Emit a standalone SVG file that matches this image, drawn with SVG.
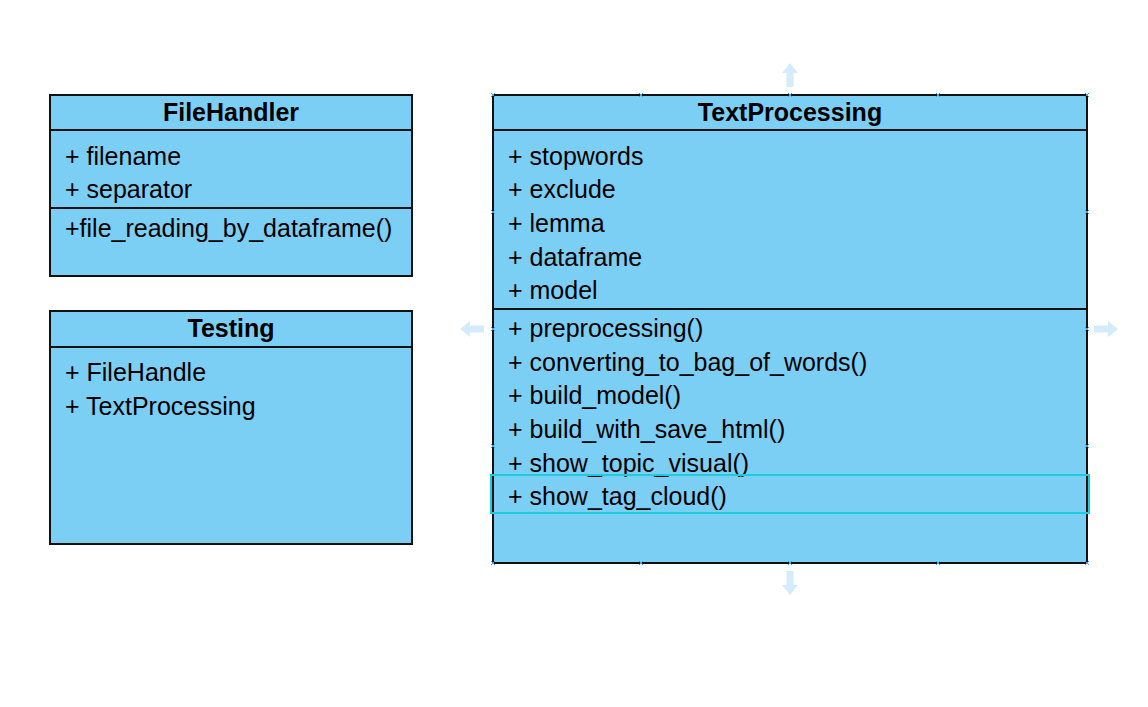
<svg xmlns="http://www.w3.org/2000/svg" width="1148" height="707" viewBox="0 0 1148 707">
<style>
.box{fill:#7bcff5;stroke:#111;stroke-width:2}
.ln{stroke:#111;stroke-width:2}
.t{font-family:"Liberation Sans",Arial,sans-serif;font-size:25px;fill:#000}
.h{font-family:"Liberation Sans",Arial,sans-serif;font-size:25px;font-weight:bold;fill:#000;text-anchor:middle}
.hint{fill:#d3ebfa}
.mk{stroke:#3aa6e0;stroke-width:1;fill:none}
</style>
<rect width="1148" height="707" fill="#fff"/>
<g id="FileHandler">
<rect class="box" x="50" y="95" width="362" height="181"/>
<line class="ln" x1="50" y1="130" x2="412" y2="130"/>
<line class="ln" x1="50" y1="208" x2="412" y2="208"/>
<text class="h" x="231" y="121">FileHandler</text>
<text class="t" x="65" y="165">+ filename</text>
<text class="t" x="65" y="198">+ separator</text>
<text class="t" x="65" y="237">+file_reading_by_dataframe()</text>
</g>
<g id="Testing">
<rect class="box" x="50" y="311" width="362" height="233"/>
<line class="ln" x1="50" y1="347" x2="412" y2="347"/>
<text class="h" x="231" y="337">Testing</text>
<text class="t" x="65" y="381">+ FileHandle</text>
<text class="t" x="65" y="415">+ TextProcessing</text>
</g>
<g id="TextProcessing">
<rect class="box" x="493" y="95" width="594" height="468"/>
<line class="ln" x1="493" y1="130" x2="1087" y2="130"/>
<line class="ln" x1="493" y1="309" x2="1087" y2="309"/>
<text class="h" x="790" y="121">TextProcessing</text>
<text class="t" x="508" y="165">+ stopwords</text>
<text class="t" x="508" y="198">+ exclude</text>
<text class="t" x="508" y="232">+ lemma</text>
<text class="t" x="508" y="266">+ dataframe</text>
<text class="t" x="508" y="299">+ model</text>
<text class="t" x="508" y="337">+ preprocessing()</text>
<text class="t" x="508" y="371">+ converting_to_bag_of_words()</text>
<text class="t" x="508" y="404">+ build_model()</text>
<text class="t" x="508" y="438">+ build_with_save_html()</text>
<text class="t" x="508" y="472">+ show_topic_visual()</text>
<text class="t" x="508" y="505">+ show_tag_cloud()</text>
<rect x="491" y="475" width="598" height="38" fill="none" stroke="#1ccbdc" stroke-width="2"/>
</g>
<g id="connectors">
<path class="hint" d="M790 63 L798 73 L793.5 73 L793.5 87 L786.5 87 L786.5 73 L782 73 Z"/>
<path class="hint" d="M790 595 L798 585 L793.5 585 L793.5 571 L786.5 571 L786.5 585 L782 585 Z"/>
<path class="hint" d="M460 329 L470 321 L470 325.5 L484 325.5 L484 332.5 L470 332.5 L470 337 Z"/>
<path class="hint" d="M1118 329 L1108 321 L1108 325.5 L1094 325.5 L1094 332.5 L1108 332.5 L1108 337 Z"/>
<g class="mk">
<path d="M491 93l4 4M495 93l-4 4M639 93l4 4M643 93l-4 4M788 93l4 4M792 93l-4 4M936 93l4 4M940 93l-4 4M1085 93l4 4M1089 93l-4 4"/>
<path d="M491 561l4 4M495 561l-4 4M639 561l4 4M643 561l-4 4M788 561l4 4M792 561l-4 4M936 561l4 4M940 561l-4 4M1085 561l4 4M1089 561l-4 4"/>
<path d="M491 210l4 4M495 210l-4 4M491 327l4 4M495 327l-4 4M491 444l4 4M495 444l-4 4"/>
<path d="M1085 210l4 4M1089 210l-4 4M1085 327l4 4M1089 327l-4 4M1085 444l4 4M1089 444l-4 4"/>
</g>
</g>
</svg>
